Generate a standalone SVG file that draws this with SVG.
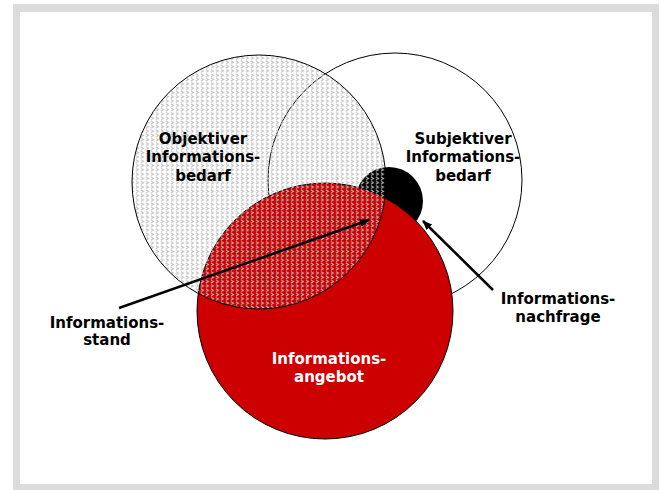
<svg xmlns="http://www.w3.org/2000/svg" width="660" height="490" viewBox="0 0 660 490">
<style>
.lbl{font-family:"DejaVu Sans",Verdana,sans-serif;font-weight:bold;font-size:15px;text-anchor:middle;fill:#000}
.wht{fill:#fff}
.ol{stroke:#000;stroke-width:1}
.arr{stroke:#000;stroke-width:2.5;fill:none;marker-end:url(#ah)}
</style>
<defs>
<pattern id="dots" width="5" height="4.3" patternUnits="userSpaceOnUse">
<path d="M0.8,0.6 L3.6,2.1 L0.8,3.6" fill="none" stroke="#bdbdbd" stroke-width="0.9"/>
</pattern>
<marker id="ah" markerWidth="10" markerHeight="8" refX="9" refY="4" orient="auto" markerUnits="userSpaceOnUse">
<path d="M0,0 L10,4 L0,8 Z" fill="#000"/>
</marker>
</defs>
<rect x="13" y="4" width="646" height="486" fill="#dcdcdc"/>
<rect x="20" y="12" width="632" height="472" fill="#fff"/>
<g id="subjektiver-bedarf">
<circle cx="395" cy="180" r="127" fill="#fff" class="ol"/>
</g>
<g id="informationsnachfrage-kreis">
<circle cx="389" cy="201" r="34" fill="#000"/>
</g>
<g id="informationsangebot">
<circle cx="325" cy="311" r="128" fill="#cc0000" class="ol"/>
</g>
<g id="objektiver-bedarf">
<circle cx="259" cy="182" r="127" fill="url(#dots)" class="ol"/>
</g>
<g id="connectors">
<line x1="119" y1="308" x2="369" y2="220" class="arr"/>
<line x1="493" y1="290" x2="423" y2="221" class="arr"/>
</g>
<g id="label-objektiver">
<text class="lbl" x="203" y="144">Objektiver</text>
<text class="lbl" x="203" y="162">Informations-</text>
<text class="lbl" x="203" y="181">bedarf</text>
</g>
<g id="label-subjektiver">
<text class="lbl" x="463" y="144">Subjektiver</text>
<text class="lbl" x="463" y="162">Informations-</text>
<text class="lbl" x="463" y="181">bedarf</text>
</g>
<g id="label-nachfrage">
<text class="lbl" x="558" y="304">Informations-</text>
<text class="lbl" x="558" y="322">nachfrage</text>
</g>
<g id="label-stand">
<text class="lbl" x="107" y="328">Informations-</text>
<text class="lbl" x="107" y="345">stand</text>
</g>
<g id="label-angebot">
<text class="lbl wht" x="329" y="364">Informations-</text>
<text class="lbl wht" x="329" y="382">angebot</text>
</g>
</svg>
